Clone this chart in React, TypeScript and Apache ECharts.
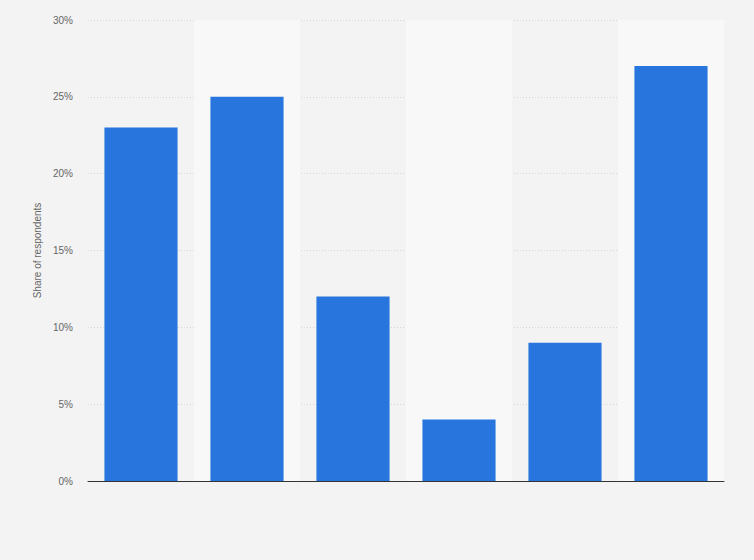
import React, { useEffect, useRef } from "react";
import * as echarts from "echarts";

const categories = ["A", "B", "C", "D", "E", "F"];
const values = [23, 25, 12, 4, 9, 27];
const yTicks = [0, 5, 10, 15, 20, 25, 30];

export default function App() {
  const ref = useRef<HTMLDivElement>(null);
  useEffect(() => {
    if (!ref.current) return;
    const chart = echarts.init(ref.current, undefined, { renderer: "svg" });
    chart.setOption({
      animation: false,
      backgroundColor: "#f3f3f3",
      grid: { left: 88, right: 30, top: 20, bottom: 79 },
      xAxis: {
        type: "category",
        data: categories,
        axisLine: { show: true, lineStyle: { color: "#333", width: 1 } },
        axisTick: { show: false },
        axisLabel: { show: false },
        splitArea: {
          show: true,
          areaStyle: { color: ["rgba(0,0,0,0)", "#f8f8f8"] },
        },
      },
      yAxis: {
        type: "value",
        min: yTicks[0],
        max: yTicks[yTicks.length - 1],
        interval: 5,
        name: "Share of respondents",
        nameLocation: "middle",
        nameGap: 43,
        nameTextStyle: { color: "#666", fontSize: 10, fontFamily: "Arial, Liberation Sans, sans-serif" },
        axisLine: { show: false },
        axisTick: { show: false },
        axisLabel: {
          formatter: "{value}%",
          color: "#666",
          fontSize: 10,
          margin: 15,
          fontFamily: "Arial, Liberation Sans, sans-serif",
        },
        splitLine: { lineStyle: { color: "#d6d6d6", type: [1, 2] } },
      },
      series: [
        {
          type: "bar",
          data: values,
          barWidth: "69%",
          itemStyle: { color: "#2876dd" },
        },
      ],
    });
    return () => chart.dispose();
  }, []);
  return (
    <div
      ref={ref}
      style={{ position: "absolute", left: 0, top: 0, width: 754, height: 560 }}
    />
  );
}
